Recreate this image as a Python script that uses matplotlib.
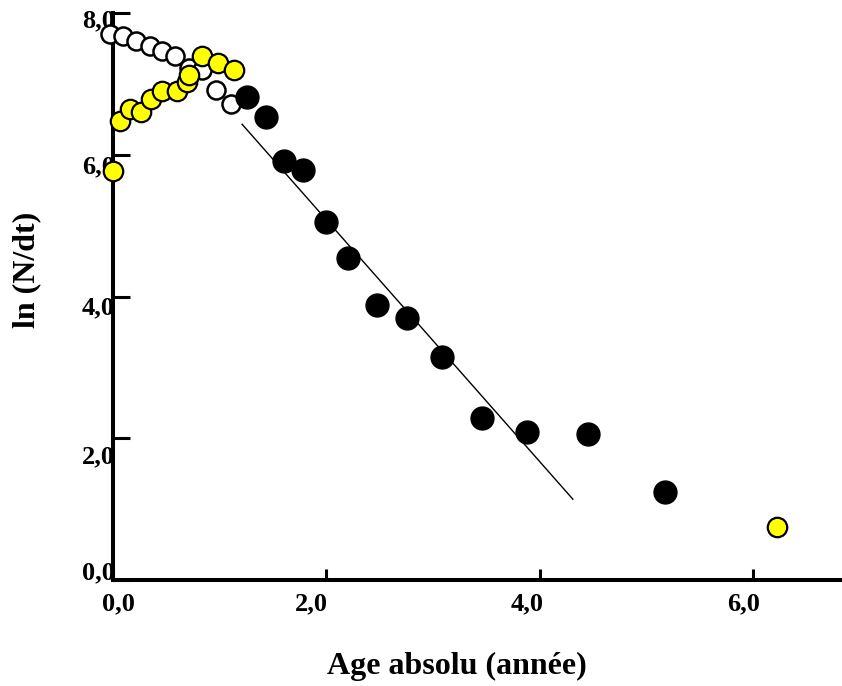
import numpy as np
import matplotlib
matplotlib.use("Agg")
import matplotlib.pyplot as plt
import matplotlib.transforms as mtransforms

plt.rcParams['font.family'] = ['Liberation Serif', 'DejaVu Serif']
plt.rcParams['font.weight'] = 'bold'

# filled black points (fitted part)
age_black = [1.26, 1.43, 1.60, 1.78, 2.00, 2.20, 2.47, 2.76, 3.08, 3.46, 3.88, 4.45, 5.17]
ln_black = [6.82, 6.53, 5.91, 5.79, 5.05, 4.54, 3.88, 3.69, 3.14, 2.29, 2.09, 2.06, 1.24]

# open circles
age_open = [-0.03, 0.09, 0.22, 0.35, 0.46, 0.58, 0.71, 0.83, 0.97, 1.11]
ln_open = [7.71, 7.67, 7.61, 7.54, 7.47, 7.40, 7.23, 7.19, 6.92, 6.71]

# yellow points
age_yellow = [0.0, 0.07, 0.16, 0.26, 0.36, 0.46, 0.60, 0.69, 0.71, 0.83, 0.98, 1.13, 6.22]
ln_yellow = [5.77, 6.48, 6.64, 6.61, 6.78, 6.90, 6.90, 7.02, 7.12, 7.40, 7.29, 7.19, 0.75]

# regression line end points
fit_age = [1.21, 4.31]
fit_ln = [6.43, 1.14]

xticks = [0, 2, 4, 6]
yticks = [0, 2, 4, 6, 8]
xticklabels = ["0,0", "2,0", "4,0", "6,0"]
yticklabels = ["0,0", "2,0", "4,0", "6,0", "8,0"]

W, H = 842, 686
fig = plt.figure(figsize=(W / 100, H / 100), dpi=100)
ax = fig.add_axes([113 / W, 1 - 580 / H, 729 / W, 567 / H])

ax.plot(fit_age, fit_ln, color="black", lw=1.0, zorder=2)
ax.plot(age_open, ln_open, "o", ms=13, mfc="white", mec="black", mew=1.8,
        clip_on=False, zorder=3)
ax.plot(age_yellow, ln_yellow, "o", ms=14, mfc="#ffff00", mec="black", mew=1.6,
        clip_on=False, zorder=4)
ax.plot(age_black, ln_black, "o", ms=16.5, mfc="black", mec="black",
        clip_on=False, zorder=5)

ax.set_xlim(0, 729 / 106.7)
ax.set_ylim(0, 8)

for s in ["top", "right"]:
    ax.spines[s].set_visible(False)
for s in ["left", "bottom"]:
    ax.spines[s].set_linewidth(2.9)

ax.set_xticks(xticks)
ax.set_xticklabels(xticklabels, fontsize=19, fontweight="bold")
ax.set_yticks(yticks)
ax.set_yticklabels(yticklabels, fontsize=19, fontweight="bold")
ax.tick_params(axis="x", direction="in", length=8, width=2.2, pad=9)
ax.tick_params(axis="y", direction="in", length=12, width=2.2, pad=0)

# shift tick labels a little, as in the original
dx_px = [5, -15, -13, -10]
for lab, dx in zip(ax.get_xticklabels(), dx_px):
    off = mtransforms.ScaledTranslation(dx / 100, 0, fig.dpi_scale_trans)
    lab.set_transform(lab.get_transform() + off)
dy_px = [-10, 16, 9, 10, 5]
for lab, dy in zip(ax.get_yticklabels(), dy_px):
    off = mtransforms.ScaledTranslation(2 / 100, -dy / 100, fig.dpi_scale_trans)
    lab.set_transform(lab.get_transform() + off)

ax.set_xlabel("Age absolu (année)", fontsize=23, fontweight="bold")
ax.xaxis.set_label_coords(0.472, -0.153)
ax.xaxis.label.set_va("center")
ax.set_ylabel("ln (N/dt)", fontsize=23, fontweight="bold")
ax.yaxis.set_label_coords(-0.118, 0.547)
ax.yaxis.label.set_va("center")

fig.savefig("out.png", dpi=100)
